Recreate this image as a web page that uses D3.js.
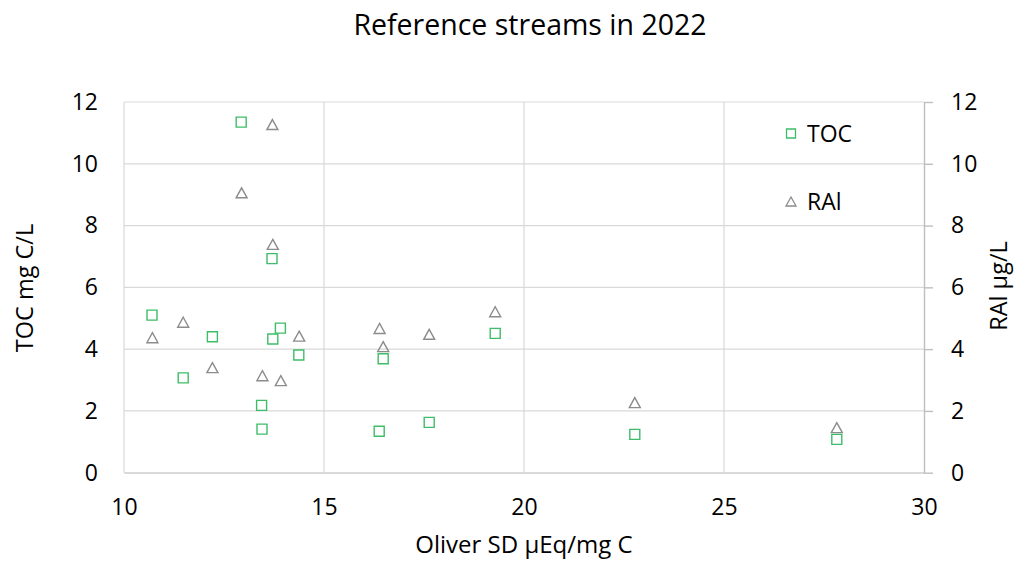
<!DOCTYPE html>
<html>
<head>
<meta charset="utf-8">
<script src="https://cdn.jsdelivr.net/npm/d3@7"></script>
<style>
  html, body { margin: 0; padding: 0; background: #ffffff; }
  svg text { font-family: "Open Sans", "Noto Sans", sans-serif; fill: #000000; }
</style>
</head>
<body>
<svg id="chart" width="1014" height="562"></svg>
<script>
// Oliver site density (µEq/mg C) and TOC (mg C/L) per stream
const tocSD     = [10.70, 11.48, 12.21, 12.93, 13.44, 13.45, 13.70, 13.72, 13.91, 14.37, 16.38, 16.48, 17.63, 19.28, 22.77, 27.82];
const tocValues = [ 5.10,  3.07,  4.40, 11.35,  2.18,  1.41,  6.93,  4.33,  4.68,  3.81,  1.34,  3.69,  1.63,  4.51,  1.24,  1.08];

// Oliver site density (µEq/mg C) and reactive aluminium (µg/L) per stream
const ralSD     = [10.71, 11.48, 12.21, 12.94, 13.46, 13.71, 13.72, 13.92, 14.38, 16.39, 16.48, 17.63, 19.28, 22.77, 27.82];
const ralValues = [ 4.37,  4.87,  3.40,  9.06,  3.14, 11.27,  7.39,  2.98,  4.42,  4.67,  4.08,  4.48,  5.21,  2.27,  1.46];

const xTicks = [10, 15, 20, 25, 30];
const yTicks = [0, 2, 4, 6, 8, 10, 12];

const chartTitle = "Reference streams in 2022";
const xTitle = "Oliver SD µEq/mg C";
const yLeftTitle = "TOC mg C/L";
const yRightTitle = "RAl µg/L";
const seriesNames = ["TOC", "RAl"];

const tocColor = "#3dbd68";
const ralColor = "#8c8c8c";
const gridColor = "#d9d9d9";

const svg = d3.select("#chart");
const plot = { left: 124, right: 924, top: 102, bottom: 472.7 };

const x = d3.scaleLinear().domain([10, 30]).range([plot.left, plot.right]);
const yL = d3.scaleLinear().domain([0, 12]).range([plot.bottom, plot.top]);
const yR = d3.scaleLinear().domain([0, 12]).range([plot.bottom, plot.top]);

// gridlines
const g = svg.append("g");
g.selectAll("line.h").data(yTicks).join("line")
  .attr("x1", plot.left).attr("x2", plot.right)
  .attr("y1", d => yL(d)).attr("y2", d => yL(d))
  .attr("stroke", gridColor).attr("stroke-width", 1.2);
g.selectAll("line.v").data(xTicks.slice(0, -1)).join("line")
  .attr("x1", d => x(d)).attr("x2", d => x(d))
  .attr("y1", plot.top).attr("y2", plot.bottom)
  .attr("stroke", gridColor).attr("stroke-width", 1.2);

// bottom axis (line only, labels below)
const xAxis = svg.append("g").attr("transform", `translate(0,${plot.bottom})`)
  .call(d3.axisBottom(x).tickValues(xTicks).tickSize(0).tickPadding(26));
xAxis.select(".domain").attr("stroke", gridColor).attr("stroke-width", 1.4);
xAxis.selectAll("text").attr("font-size", 23).attr("font-family", "Open Sans").attr("fill", "#000");

// left axis (labels only)
const yAxisL = svg.append("g").attr("transform", `translate(${plot.left},0)`)
  .call(d3.axisLeft(yL).tickValues(yTicks).tickSize(0).tickPadding(26));
yAxisL.select(".domain").remove();
yAxisL.selectAll("text").attr("font-size", 23).attr("font-family", "Open Sans").attr("fill", "#000");

// right axis with outward ticks
const yAxisR = svg.append("g").attr("transform", `translate(${plot.right},0)`)
  .call(d3.axisRight(yR).tickValues(yTicks).tickSize(9).tickSizeOuter(0).tickPadding(18));
yAxisR.select(".domain").attr("stroke", "#bfbfbf").attr("stroke-width", 1.4);
yAxisR.selectAll(".tick line").attr("stroke", "#bfbfbf").attr("stroke-width", 1.4);
yAxisR.selectAll("text").attr("font-size", 23).attr("font-family", "Open Sans").attr("fill", "#000");

// titles
svg.append("text").attr("x", 530).attr("y", 35).attr("text-anchor", "middle")
  .attr("font-size", 28.5).text(chartTitle);
svg.append("text").attr("x", 524).attr("y", 553).attr("text-anchor", "middle")
  .attr("font-size", 24).text(xTitle);
svg.append("text").attr("transform", "translate(33,288) rotate(-90)").attr("text-anchor", "middle")
  .attr("font-size", 23.5).text(yLeftTitle);
svg.append("text").attr("transform", "translate(1007,286) rotate(-90)").attr("text-anchor", "middle")
  .attr("font-size", 23.5).text(yRightTitle);

// marker shapes
const sq = 10;
const squarePath = (cx, cy, s) => `M${cx - s / 2},${cy - s / 2}h${s}v${s}h${-s}Z`;
const triPath = (cx, cy, w, h) => `M${cx},${cy - h / 2}L${cx + w / 2},${cy + h / 2}L${cx - w / 2},${cy + h / 2}Z`;

const tocData = tocSD.map((sd, i) => ({ sd, v: tocValues[i] }));
const ralData = ralSD.map((sd, i) => ({ sd, v: ralValues[i] }));

svg.append("g").selectAll("path").data(ralData).join("path")
  .attr("d", d => triPath(x(d.sd), yR(d.v), 11, 10))
  .attr("fill", "none").attr("stroke", ralColor).attr("stroke-width", 1.4);

svg.append("g").selectAll("path").data(tocData).join("path")
  .attr("d", d => squarePath(x(d.sd), yL(d.v), sq))
  .attr("fill", "none").attr("stroke", tocColor).attr("stroke-width", 1.4);

// legend
const legend = svg.append("g");
legend.append("path").attr("d", squarePath(791, 133.5, 9))
  .attr("fill", "none").attr("stroke", tocColor).attr("stroke-width", 1.3);
legend.append("text").attr("x", 807).attr("y", 142).attr("font-size", 23).text(seriesNames[0]);
legend.append("path").attr("d", triPath(791, 201.5, 10, 9))
  .attr("fill", "none").attr("stroke", ralColor).attr("stroke-width", 1.3);
legend.append("text").attr("x", 807).attr("y", 210).attr("font-size", 23).text(seriesNames[1]);
</script>
</body>
</html>
